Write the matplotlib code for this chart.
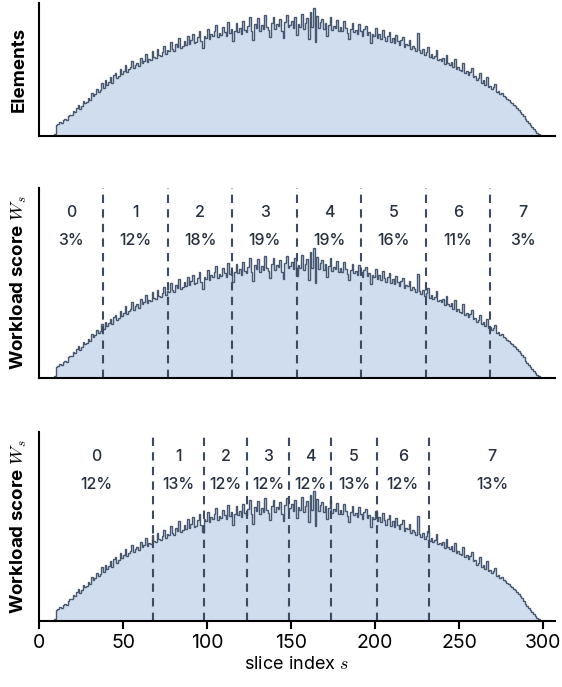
import numpy as np
import matplotlib
matplotlib.use("Agg")
import matplotlib.pyplot as plt

plt.rcParams['font.family'] = ['Inter', 'DejaVu Sans']
plt.rcParams['mathtext.fontset'] = 'cm'

# elements per slice, starting at slice 9
first_slice = 9
elements = [
    2, 11, 12, 14, 13, 16, 17, 16, 20, 21,
    21, 25, 24, 28, 31, 27, 30, 35, 33, 34,
    38, 36, 43, 40, 42, 47, 44, 46, 53, 48,
    55, 51, 54, 58, 53, 60, 62, 57, 59, 66,
    61, 64, 70, 63, 66, 68, 74, 67, 70, 72,
    69, 77, 72, 74, 81, 73, 76, 75, 84, 78,
    77, 86, 80, 79, 83, 89, 81, 85, 84, 93,
    86, 84, 91, 88, 97, 87, 89, 94, 90, 99,
    91, 95, 101, 92, 93, 98, 104, 94, 87, 99,
    97, 106, 96, 101, 99, 104, 110, 98, 102, 100,
    108, 103, 99, 113, 102, 106, 94, 104, 112, 103,
    107, 101, 114, 105, 103, 109, 118, 104, 95, 111,
    107, 117, 104, 110, 106, 120, 108, 105, 98, 112,
    118, 106, 111, 109, 116, 104, 97, 113, 120, 108,
    110, 114, 107, 118, 100, 111, 108, 121, 106, 112,
    117, 96, 123, 108, 127, 93, 119, 107, 113, 116,
    106, 112, 99, 110, 118, 105, 109, 107, 115, 104,
    108, 104, 114, 107, 102, 96, 106, 112, 103, 105,
    101, 111, 104, 99, 106, 109, 100, 103, 92, 101,
    99, 107, 97, 101, 96, 105, 98, 94, 99, 103,
    93, 97, 92, 100, 94, 90, 95, 98, 88, 91,
    90, 95, 86, 89, 87, 84, 102, 85, 82, 86,
    80, 83, 88, 78, 81, 77, 79, 85, 75, 76,
    74, 77, 71, 80, 72, 70, 73, 68, 76, 66,
    68, 65, 64, 72, 62, 64, 60, 63, 67, 58,
    59, 55, 57, 62, 53, 55, 51, 58, 49, 50,
    47, 49, 52, 44, 45, 42, 43, 40, 39, 37,
    36, 34, 33, 31, 30, 28, 26, 24, 22, 20,
    17, 15, 13, 11, 9, 7, 5, 3, 2, 1,
]

x_max = 307
parts = ["0", "1", "2", "3", "4", "5", "6", "7"]

# equal-width split
even_cuts = [x_max * i / 8 for i in range(9)]
even_pct = ["3%", "12%", "18%", "19%", "19%", "16%", "11%", "3%"]

# balanced split
bal_cuts = [0, 68, 98, 124, 149, 174, 201, 232, x_max]
bal_pct = ["12%", "13%", "12%", "12%", "12%", "13%", "12%", "13%"]

fill_col = "#d0ddee"
line_col = "#485770"
dash_col = "#3c4a62"
text_col = "#26303f"

vals = np.array(elements, dtype=float)
edges = np.arange(first_slice, first_slice + len(vals) + 1)

fig = plt.figure(figsize=(5.62, 6.87), dpi=100)
ax1 = fig.add_axes([0.0694, 0.802, 0.918, 0.194])
ax2 = fig.add_axes([0.0694, 0.450, 0.918, 0.276])
ax3 = fig.add_axes([0.0694, 0.096, 0.918, 0.275])


def draw_hist(ax):
    ax.stairs(vals, edges, fill=True, color=fill_col, lw=0)
    ax.stairs(vals, edges, color=line_col, lw=1.0)
    ax.set_xlim(0, x_max)
    for side in ["top", "right"]:
        ax.spines[side].set_visible(False)
    for side in ["left", "bottom"]:
        ax.spines[side].set_linewidth(1.5)
        ax.spines[side].set_color("black")
    ax.set_yticks([])


def draw_parts(ax, cuts, pct):
    for c in cuts[1:-1]:
        ax.axvline(c, color=dash_col, lw=1.5, ls=(0, (4, 3)))
    for i in range(len(parts)):
        mid = (cuts[i] + cuts[i + 1]) / 2
        ax.text(mid, 0.87, parts[i], transform=ax.get_xaxis_transform(),
                ha="center", va="center", fontsize=11.5, fontweight=500,
                color=text_col)
        ax.text(mid, 0.725, pct[i], transform=ax.get_xaxis_transform(),
                ha="center", va="center", fontsize=11.5, fontweight=500,
                color=text_col)


draw_hist(ax1)
ax1.set_ylim(0, 132)
ax1.set_xticks([])
ax1.set_ylabel("Elements", fontsize=13.5, fontweight="bold", labelpad=8)

draw_hist(ax2)
ax2.set_ylim(0, 186)
ax2.set_xticks([])
draw_parts(ax2, even_cuts, even_pct)
ax2.set_ylabel("Workload score $W_s$", fontsize=13.5, fontweight="bold", labelpad=7)

draw_hist(ax3)
ax3.set_ylim(0, 184)
draw_parts(ax3, bal_cuts, bal_pct)
ax3.set_xticks([0, 50, 100, 150, 200, 250, 300])
ax3.tick_params(axis="x", labelsize=14, length=6, width=1.5, pad=3)
ax3.set_ylabel("Workload score $W_s$", fontsize=13.5, fontweight="bold", labelpad=7)
ax3.set_xlabel("slice index $s$", fontsize=13, labelpad=3)

fig.savefig("out.png", dpi=100)
